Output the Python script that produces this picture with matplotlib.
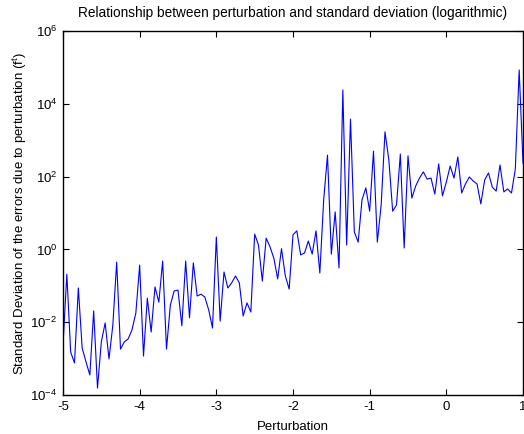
import numpy as np
import matplotlib
matplotlib.use("Agg")
import matplotlib.pyplot as plt
from matplotlib.ticker import FixedLocator, FixedFormatter

# Perturbation values: -5 to 1 in steps of 0.05
x_start, x_stop, n_points = -5.0, 1.0, 121
perturbation = np.linspace(x_start, x_stop, n_points)

# log10 of the standard deviation
log_std = [
    -2.63, -0.68, -2.82, -3.12, -1.06, -2.71, -3.09, -3.45, -1.69, -3.81,
    -2.54, -2.02, -3.01, -2.08, -0.35, -2.74, -2.54, -2.46, -2.21, -1.75,
    -0.43, -2.93, -1.34, -2.27, -1.03, -1.45, -0.32, -2.74, -1.53, -1.14,
    -1.12, -2.10, -0.32, -1.88, -0.37, -1.28, -1.23, -1.31, -1.66, -2.16,
    0.34, -1.97, -0.62, -1.06, -0.92, -0.73, -0.92, -1.83, -1.47, -1.72,
    0.42, 0.12, -0.87, 0.31, 0.07, -0.24, -0.81, 0.02, -0.73, -1.09,
    0.40, 0.51, -0.15, -0.10, 0.23, -0.13, 0.51, -0.65, 1.36, 2.59,
    -0.13, 1.03, -0.51, 4.38, 0.12, 3.58, 0.48, 0.20, 1.36, 1.69,
    1.05, 2.70, 0.20, 1.22, 3.23, 2.46, 1.05, 1.22, 2.62, 0.04,
    2.57, 1.41, 1.74, 1.96, 2.13, 1.93, 1.96, 1.52, 2.35, 1.47,
    1.85, 2.29, 1.96, 2.54, 1.55, 1.80, 1.99, 1.88, 1.80, 1.25,
    1.91, 2.10, 1.71, 1.60, 2.32, 1.58, 1.66, 1.55, 2.21, 4.93,
    2.37,
]
std_dev = 10.0 ** np.array(log_std)

x_ticks = [-5, -4, -3, -2, -1, 0, 1]
x_tick_labels = ["-5", "-4", "-3", "-2", "-1", "0", "1"]
y_ticks = [1e-4, 1e-2, 1e0, 1e2, 1e4, 1e6]
y_tick_labels = [r"10$^{-4}$", r"10$^{-2}$", r"10$^{0}$", r"10$^{2}$", r"10$^{4}$", r"10$^{6}$"]

title = "Relationship between perturbation and standard deviation (logarithmic)"
xlabel = "Perturbation"
ylabel = r"Standard Deviation of the errors due to perturbation (f$^{\mathrm{t}}$)"

plt.rcParams["font.family"] = ["Liberation Sans", "DejaVu Sans"]
plt.rcParams["mathtext.fontset"] = "custom"
plt.rcParams["mathtext.rm"] = "Liberation Sans"
plt.rcParams["mathtext.it"] = "Liberation Sans:italic"

fig = plt.figure(figsize=(5.24, 4.34), dpi=100)
ax = fig.add_axes([63 / 524, 1 - 395 / 434, (523 - 63) / 524, (395 - 31) / 434])

ax.plot(perturbation, std_dev, color="#0000ff", linewidth=0.8)
ax.set_yscale("log")
ax.set_xlim(-5, 1)
ax.set_ylim(1e-4, 1e6)

ax.xaxis.set_major_locator(FixedLocator(x_ticks))
ax.xaxis.set_major_formatter(FixedFormatter(x_tick_labels))
ax.yaxis.set_major_locator(FixedLocator(y_ticks))
ax.yaxis.set_major_formatter(FixedFormatter(y_tick_labels))
ax.yaxis.set_minor_locator(FixedLocator([]))

ax.tick_params(direction="in", top=True, right=True, length=4, width=0.8,
               labelsize=9.5, colors="black", pad=4)
for s in ax.spines.values():
    s.set_linewidth(1.0)

ax.set_title(title, fontsize=9.8, pad=10)
ax.set_xlabel(xlabel, fontsize=9.5, labelpad=6)
ax.set_ylabel(ylabel, fontsize=9.5, labelpad=1)

fig.savefig("out.png", dpi=100)
